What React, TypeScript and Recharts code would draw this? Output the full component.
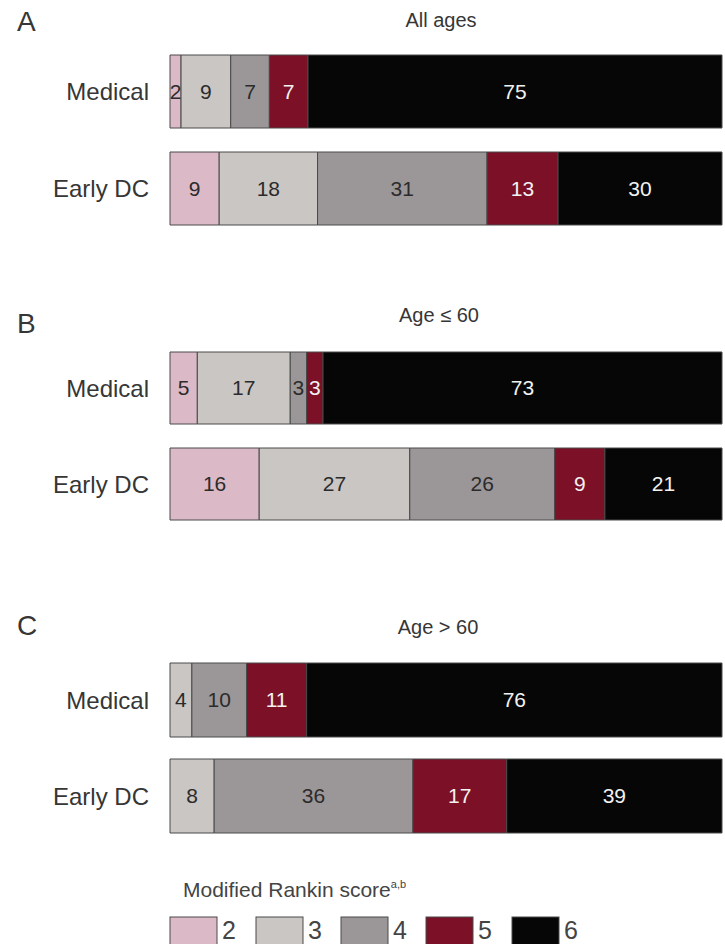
import React from 'react';
import { BarChart, Bar, XAxis, YAxis, LabelList } from 'recharts';

const categories = ['Medical', 'Early DC'];
const scores = ['2', '3', '4', '5', '6'];
const scoreColors = ['#dcb9c6', '#c9c6c3', '#9b9698', '#7b1026', '#060606'];
const labelColors = ['#2b2b2b', '#2b2b2b', '#2b2b2b', '#f2f2f2', '#f2f2f2'];

const allAgesMedical = [2, 9, 7, 7, 75];
const allAgesEarlyDC = [9, 18, 31, 13, 30];
const age60Medical = [5, 17, 3, 3, 73];
const age60EarlyDC = [16, 27, 26, 9, 21];
const over60Medical = [0, 4, 10, 11, 76];
const over60EarlyDC = [0, 8, 36, 17, 39];

const panelLetters = ['A', 'B', 'C'];
const panelTitles = ['All ages', 'Age \u2264 60', 'Age > 60'];
const legendTitle = 'Modified Rankin score';
const legendSup = 'a,b';

const FONT = '"Liberation Sans", Arial, sans-serif';

const makeRows = (med: number[], edc: number[]) =>
  categories.map((name, i) => {
    const src = i === 0 ? med : edc;
    const row: Record<string, any> = { name };
    scores.forEach((s, j) => {
      row['s' + s] = src[j];
    });
    return row;
  });

const panels = [
  { data: makeRows(allAgesMedical, allAgesEarlyDC), top: 43, height: 194, barSize: 73, letterY: 31, titleY: 27, titleX: 441 },
  { data: makeRows(age60Medical, age60EarlyDC), top: 340, height: 192, barSize: 72, letterY: 333, titleY: 322, titleX: 439 },
  { data: makeRows(over60Medical, over60EarlyDC), top: 652, height: 192, barSize: 74, letterY: 635, titleY: 634, titleX: 438 },
];

const legendX = [170, 256, 341, 426, 512];

const Panel = ({ data, height, barSize }: any) => (
  <BarChart
    width={725}
    height={height}
    data={data}
    layout="vertical"
    stackOffset="expand"
    margin={{ top: 0, right: 3, bottom: 0, left: 0 }}
  >
    <XAxis type="number" hide domain={[0, 1]} />
    <YAxis
      type="category"
      dataKey="name"
      width={170}
      axisLine={false}
      tickLine={false}
      tickSize={0}
      tickMargin={21}
      tick={{ fontSize: 24, fill: '#363636', fontFamily: FONT }}
    />
    {scores.map((s, j) => (
      <Bar
        key={s}
        dataKey={'s' + s}
        stackId="a"
        fill={scoreColors[j]}
        stroke="#4a4a4a"
        strokeWidth={1}
        barSize={barSize}
        isAnimationActive={false}
      >
        <LabelList
          dataKey={'s' + s}
          position="center"
          fill={labelColors[j]}
          fontSize={21}
          fontFamily={FONT}
          formatter={(v: any) => (v ? v : '')}
        />
      </Bar>
    ))}
  </BarChart>
);

export default function App() {
  return (
    <div style={{ position: 'absolute', left: 0, top: 0, width: 725, height: 944, overflow: 'hidden', fontFamily: FONT, background: '#fff' }}>
      {panels.map((p, i) => (
        <div key={i} style={{ position: 'absolute', left: 0, top: p.top }}>
          <Panel data={p.data} height={p.height} barSize={p.barSize} />
        </div>
      ))}
      <svg width={725} height={944} style={{ position: 'absolute', left: 0, top: 0, pointerEvents: 'none' }}>
        {panels.map((p, i) => (
          <g key={i}>
            <text x={17} y={p.letterY} fontSize={28} fill="#363636" fontFamily={FONT}>
              {panelLetters[i]}
            </text>
            <text x={p.titleX} y={p.titleY} fontSize={20} fill="#363636" textAnchor="middle" fontFamily={FONT}>
              {panelTitles[i]}
            </text>
          </g>
        ))}
        <text x={183} y={897} fontSize={21} fill="#444" fontFamily={FONT}>
          {legendTitle}
          <tspan fontSize={11} dy={-9}>{legendSup}</tspan>
        </text>
        {scores.map((s, j) => (
          <g key={s}>
            <rect x={legendX[j]} y={917} width={47} height={40} fill={scoreColors[j]} stroke="#4a4a4a" strokeWidth={1} />
            <text x={legendX[j] + 52} y={939} fontSize={25} fill="#444" fontFamily={FONT}>
              {s}
            </text>
          </g>
        ))}
      </svg>
    </div>
  );
}
